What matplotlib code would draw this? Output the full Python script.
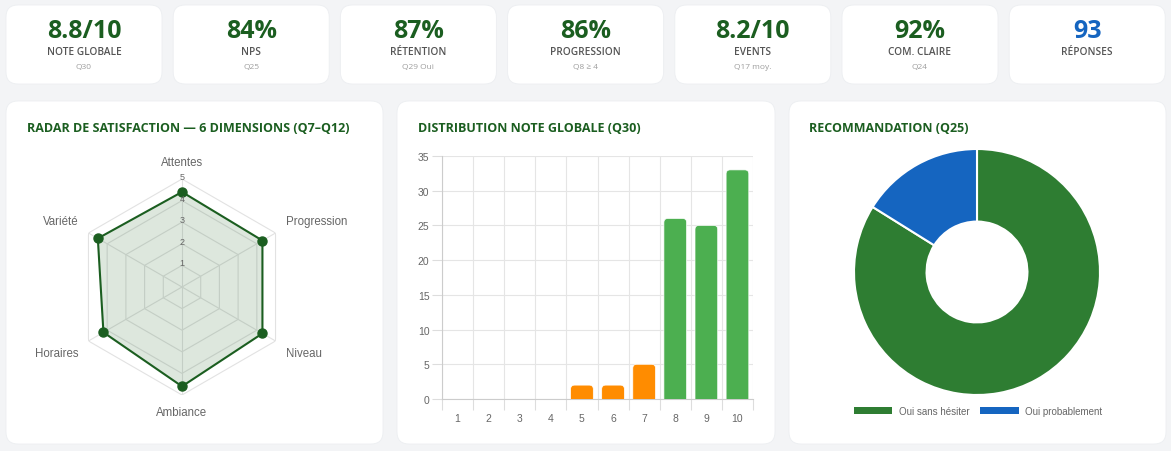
import numpy as np
import matplotlib.pyplot as plt
from matplotlib.patches import FancyBboxPatch, Patch

# KPI cards
kpi_values = ["8.8/10", "84%", "87%", "86%", "8.2/10", "92%", "93"]
kpi_labels = ["NOTE GLOBALE", "NPS", "RÉTENTION", "PROGRESSION", "EVENTS", "COM. CLAIRE", "RÉPONSES"]
kpi_subs = ["Q30", "Q25", "Q29 Oui", "Q8 ≥ 4", "Q17 moy.", "Q24", ""]

# radar Q7-Q12
radar_dims = ["Attentes", "Progression", "Niveau", "Ambiance", "Horaires", "Variété"]
radar_scores = [4.4, 4.3, 4.3, 4.6, 4.2, 4.5]

# distribution note globale
notes = ["1", "2", "3", "4", "5", "6", "7", "8", "9", "10"]
note_counts = [0, 0, 0, 0, 2, 2, 5, 26, 25, 33]

# recommandation
reco_labels = ["Oui sans hésiter", "Oui probablement"]
reco_counts = [78, 15]

DARK = "#1b5e20"
BLUE = "#1565c0"
BG = "#f3f4f6"
W, H = 1171, 452

plt.rcParams['font.family'] = ['Liberation Sans', 'DejaVu Sans']

fig = plt.figure(figsize=(W / 100, H / 100), dpi=100)
fig.patch.set_facecolor(BG)

# background axes in pixel units for the cards
bg = fig.add_axes([0, 0, 1, 1])
bg.set_xlim(0, W)
bg.set_ylim(H, 0)
bg.axis('off')


def card(x0, y0, x1, y1):
    bg.add_patch(FancyBboxPatch((x0, y0), x1 - x0, y1 - y0,
                                boxstyle="round,pad=0,rounding_size=12",
                                fc="white", ec="#eceef1", lw=0.6))


def px_axes(x0, y0, x1, y1, **kw):
    return fig.add_axes([x0 / W, (H - y1) / H, (x1 - x0) / W, (y1 - y0) / H], **kw)


# KPI row
for i, (v, lab, sub) in enumerate(zip(kpi_values, kpi_labels, kpi_subs)):
    x0 = 6 + i * 167.2
    card(x0, 6, x0 + 156, 85)
    cx = x0 + 78
    col = BLUE if i == len(kpi_values) - 1 else DARK
    bg.text(cx, 31, v, ha='center', va='center', fontsize=18, fontweight='bold',
            color=col, family=['Open Sans', 'DejaVu Sans'])
    bg.text(cx, 52.5, lab, ha='center', va='center', fontsize=7.3, fontweight='semibold',
            color="#555555", family=['Open Sans', 'DejaVu Sans'])
    if sub:
        bg.text(cx, 67.5, sub, ha='center', va='center', fontsize=6,
                color="#9e9e9e", family=['Open Sans', 'DejaVu Sans'])

# lower cards
card(6, 102, 383, 445)
card(397, 102, 775, 445)
card(789, 102, 1166, 445)
title_kw = dict(va='center', ha='left', fontsize=9, fontweight='bold', color=DARK,
                family=['Open Sans', 'DejaVu Sans'])
bg.text(27, 128, "RADAR DE SATISFACTION — 6 DIMENSIONS (Q7–Q12)", **title_kw)
bg.text(418, 128, "DISTRIBUTION NOTE GLOBALE (Q30)", **title_kw)
bg.text(809, 128, "RECOMMANDATION (Q25)", **title_kw)

# radar
rx, ry, rr = 182, 288, 108
ax_r = px_axes(rx - rr, ry - rr, rx + rr, ry + rr, projection='polar')
ax_r.set_theta_offset(np.pi / 2)
ax_r.set_theta_direction(-1)
ax_r.set_ylim(0, 5)
ax_r.set_xticks([])
ax_r.set_yticks([])
ax_r.grid(False)
ax_r.spines['polar'].set_visible(False)
ax_r.patch.set_alpha(0)

angles = np.linspace(0, 2 * np.pi, len(radar_dims), endpoint=False)
closed = np.concatenate([angles, angles[:1]])
for r in range(1, 6):
    ax_r.plot(closed, [r] * len(closed), color="#e2e2e2", lw=0.8, zorder=1)
for a in angles:
    ax_r.plot([a, a], [0, 5], color="#e2e2e2", lw=0.8, zorder=1)

vals = np.array(radar_scores + radar_scores[:1])
ax_r.fill(closed, vals, color=DARK, alpha=0.15, lw=0, zorder=2)
ax_r.plot(closed, vals, color=DARK, lw=1.5, zorder=3)
ax_r.plot(angles, radar_scores, 'o', color=DARK, ms=6.5, zorder=4)

for r in range(1, 6):
    ax_r.text(0, r + 0.12, str(r), ha='center', va='center', fontsize=6.5, color="#666666", zorder=5)

for a, name in zip(angles, radar_dims):
    s = np.sin(a)
    c = np.cos(a)
    ha = 'left' if s > 0.1 else ('right' if s < -0.1 else 'center')
    va = 'bottom' if c > 0 else 'top'
    rad = 5.55 if abs(s) > 0.1 else 5.5
    ax_r.text(a, rad, name, ha=ha, va=va, fontsize=8.3, color="#666666")

# bar chart
ax_b = px_axes(442, 157, 753, 400)
xs = np.arange(len(notes))
ax_b.set_xlim(-0.5, len(notes) - 0.5)
ax_b.set_ylim(0, 35)
ax_b.set_yticks(range(0, 36, 5))
ax_b.set_xticks(xs)
ax_b.set_xticklabels(notes)
ax_b.set_xticks(np.arange(-0.5, len(notes)), minor=True)
ax_b.tick_params(axis='x', which='major', length=0, pad=10, labelsize=7.5, labelcolor="#666666")
ax_b.tick_params(axis='x', which='minor', length=8, color="#dddddd", width=0.8)
ax_b.tick_params(axis='y', length=7, color="#dddddd", width=0.8, pad=2, labelsize=7.5,
                 labelcolor="#666666")
ax_b.grid(True, which='minor', axis='x', color="#e5e5e5", lw=0.8)
ax_b.grid(True, which='major', axis='y', color="#e5e5e5", lw=0.8)
ax_b.set_axisbelow(True)
for sp in ['top', 'right']:
    ax_b.spines[sp].set_visible(False)
for sp in ['left', 'bottom']:
    ax_b.spines[sp].set_color("#cccccc")
    ax_b.spines[sp].set_linewidth(0.8)

bar_w = 0.73
for x, n in zip(xs, note_counts):
    if n == 0:
        continue
    col = "#4caf50" if int(notes[x]) >= 8 else "#ff8c00"
    p = FancyBboxPatch((x - bar_w / 2, -1), bar_w, n + 1,
                       boxstyle="round,pad=0,rounding_size=0.13",
                       mutation_aspect=4.4, fc=col, ec="white", lw=0.5, zorder=3)
    p.set_clip_path(ax_b.patch)
    ax_b.add_patch(p)

# donut
dx, dy, dr = 977, 273, 123
ax_d = px_axes(dx - dr, dy - dr, dx + dr, dy + dr)
ax_d.pie(reco_counts, colors=["#2e7d32", BLUE], startangle=90, counterclock=False,
         radius=1, wedgeprops=dict(width=0.59, edgecolor='white', linewidth=1.5))
ax_d.set_xlim(-1, 1)
ax_d.set_ylim(-1, 1)
ax_d.set_aspect('equal')

handles = [Patch(fc="#2e7d32", ec='none'), Patch(fc=BLUE, ec='none')]
fig.legend(handles, reco_labels, loc='center', bbox_to_anchor=(978 / W, 1 - 412 / H),
           ncol=2, frameon=False, fontsize=7, handlelength=4.0, handleheight=0.7,
           handletextpad=0.7, columnspacing=1.0, labelcolor="#666666")

fig.savefig("out.png", dpi=100, facecolor=fig.get_facecolor())
